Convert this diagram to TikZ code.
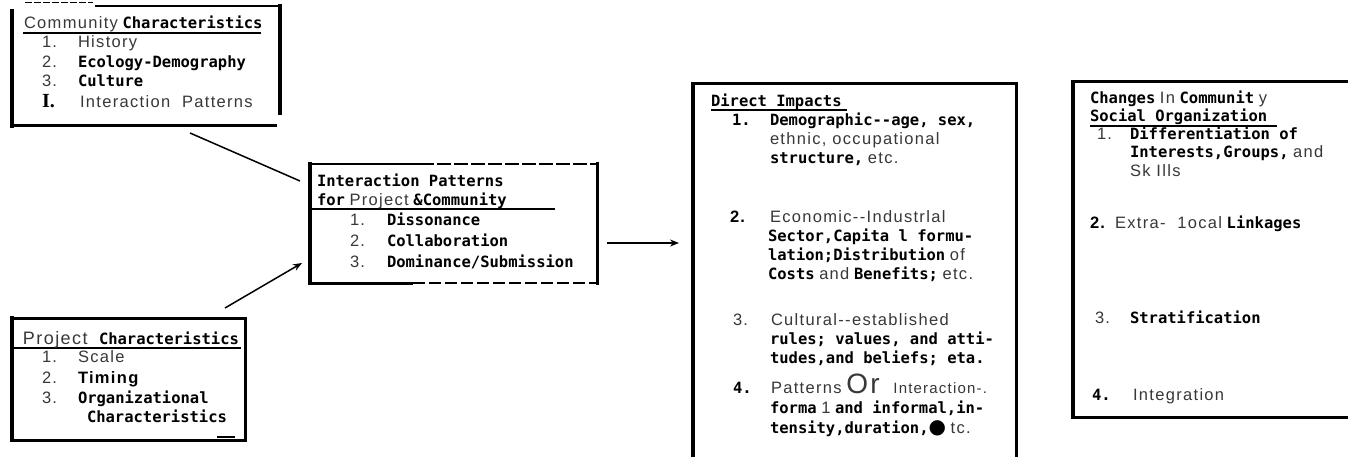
\documentclass[tikz,border=0pt]{standalone}
\usepackage{fontspec}
\usetikzlibrary{arrows.meta}
\setmainfont{Liberation Sans}
\newfontfamily\rgfont[LetterSpace=8]{Liberation Sans}
\newfontfamily\bdfont{DejaVu Sans Mono}
\newfontfamily\serifbd{Liberation Serif}
\newfontfamily\symfont{DejaVu Sans}
\definecolor{txtgray}{gray}{0.22}
% regular, bold typewriter, and bold sans text runs
\newcommand\Rg[1]{{\rgfont\color{txtgray}#1}}
\newcommand\Bd[1]{{\fontsize{15.5}{18}\bdfont\bfseries #1}}
\newcommand\HB[1]{{\rgfont\bfseries #1}}
\tikzset{
  txt/.style={anchor=base west, inner sep=0pt, outer sep=0pt, font=\fontsize{16.5}{18}\selectfont},
  rule/.style={line width=1.5pt},
  edge/.style={line width=3pt},
  thick edge/.style={line width=4pt},
  link/.style={line width=1.5pt},
  arrowlink/.style={line width=1.5pt, -{Stealth[length=9pt,width=7pt]}}
}
\begin{document}
\begin{tikzpicture}[x=1pt,y=-1pt]
\fill[white] (0,0) rectangle (1348,457);
\useasboundingbox (0,0) rectangle (1348,457);

% ---- Community characteristics ----
\draw[line width=1pt, dash pattern=on 7pt off 2pt] (25,3) -- (93,3);
\draw[line width=2.5pt] (95,6) -- (279,6);
\draw[thick edge] (12,9) -- (12,128);
\draw[edge] (12,126) -- (277,126);
\draw[line width=3.5pt] (280,4) -- (280,115);
\draw[rule] (23,33) -- (261,33);
\node[txt] (ct) at (24,29) {\Rg{Community} \Bd{Characteristics}};
\node[txt] (cn1) at (42,48) {\Rg{1.}};
\node[txt] (ci1) at (78,48) {\Rg{History}};
\node[txt] (cn2) at (42,68) {\Rg{2.}};
\node[txt] (ci2) at (78,68) {\Bd{Ecology-Demography}};
\node[txt] (cn3) at (42,87) {\Rg{3.}};
\node[txt] (ci3) at (78,87) {\Bd{Culture}};
\node[txt] (cn4) at (42,108) {\fontsize{20}{20}\serifbd\bfseries I.};
\node[txt] (ci4) at (80,108) {\Rg{Interaction\ \ Patterns}};

% ---- Interaction patterns ----
\draw[thick edge] (310,162) -- (310,285);
\draw[line width=2.5pt] (310,164) -- (420,164);
\draw[line width=2pt, dash pattern=on 14pt off 3pt] (420,164) -- (597,164);
\draw[edge] (597,162) -- (597,285);
\draw[edge] (310,283) -- (413,283);
\draw[line width=2pt, dash pattern=on 12pt off 4pt] (413,283) -- (597,283);
\draw[rule] (310,209) -- (555,209);
\node[txt] (it1) at (317,186) {\Bd{Interaction Patterns}};
\node[txt] (it2) at (317,205) {\Bd{for} \Rg{Project} \Bd{\&Community}};
\node[txt] (in1) at (350,225) {\Rg{1.}};
\node[txt] (ii1) at (387,225) {\Bd{Dissonance}};
\node[txt] (in2) at (350,246) {\Rg{2.}};
\node[txt] (ii2) at (387,246) {\Bd{Collaboration}};
\node[txt] (in3) at (350,267) {\Rg{3.}};
\node[txt] (ii3) at (387,267) {\Bd{Dominance/Submission}};

% ---- Project characteristics ----
\draw[edge] (12,318) rectangle (245,440);
\draw[thick edge] (12,316) -- (12,442);
\draw[rule] (12,348) -- (241,348);
\draw[rule] (217,437) -- (235,437);
\node[txt] (pt) at (23,344) {{\fontsize{18}{18}\Rg{Project}}};
\node[txt] (pt2) at (99,344) {\Bd{Characteristics}};
\node[txt] (pn1) at (42,362) {\Rg{1.}};
\node[txt] (pi1) at (78,362) {\Rg{Scale}};
\node[txt] (pn2) at (42,383) {\Rg{2.}};
\node[txt] (pi2) at (78,383) {\HB{Timing}};
\node[txt] (pn3) at (42,403) {\Rg{3.}};
\node[txt] (pi3) at (78,403) {\Bd{Organizational}};
\node[txt] (pi3b) at (87,422) {\Bd{Characteristics}};

% ---- connectors ----
\coordinate (cfoot) at (190,133);
\coordinate (ihead) at (300,181);
\coordinate (ptop) at (225,308);
\coordinate (ifoot) at (302,263);
\coordinate (iright) at (607,243);
\coordinate (dleft) at (679,243);
\draw[link] (cfoot) -- (ihead);
\draw[arrowlink] (ptop) -- (ifoot);
\draw[arrowlink] (iright) -- (dleft);

% ---- Direct impacts ----
\draw[thick edge] (693,82) -- (693,460);
\draw[edge] (693,84) -- (1016,84);
\draw[edge] (1016,82) -- (1016,460);
\draw[rule] (711,110) -- (847,110);
\node[txt] (dt) at (711,107) {\Bd{Direct Impacts}};
\node[txt] (dn1) at (732,126) {\Bd{1.}};
\node[txt] (d1a) at (770,126) {\Bd{Demographic--age, sex,}};
\node[txt] (d1b) at (770,145) {\Rg{ethnic,\ occupational}};
\node[txt] (d1c) at (770,164) {\Bd{structure,} \Rg{etc.}};
\node[txt] (dn2) at (730,222) {\HB{2.}};
\node[txt] (d2a) at (770,222) {\Rg{Economic--Industrlal}};
\node[txt] (d2b) at (768,241) {\Bd{Sector,Capita l formu-}};
\node[txt] (d2c) at (768,260) {\Bd{lation;Distribution} \Rg{of}};
\node[txt] (d2d) at (768,279) {\Bd{Costs} \Rg{and} \Bd{Benefits;} \Rg{etc.}};
\node[txt] (dn3) at (733,325) {\Rg{3.}};
\node[txt] (d3a) at (771,325) {\Rg{Cultural--established}};
\node[txt] (d3b) at (770,344) {\Bd{rules; values, and atti-}};
\node[txt] (d3c) at (770,363) {\Bd{tudes,and beliefs; eta.}};
\node[txt] (dn4) at (733,393) {\Bd{4.}};
\node[txt] (d4a) at (771,393) {\Rg{Patterns} {\fontsize{28}{28}\Rg{Or}}\ \ \ {\fontsize{15}{15}\Rg{Interaction-.}}};
\node[txt] (d4b) at (770,413) {\Bd{forma} \Rg{1} \Bd{and informal,in-}};
\node[txt] (d4c) at (770,433) {\Bd{tensity,duration,}{\fontsize{20}{20}\symfont ●} \Rg{tc.}};

% ---- Changes in community social organization ----
\draw[line width=3.5pt] (1073,80) -- (1073,419);
\draw[edge] (1073,82) -- (1348,82);
\draw[edge] (1073,417) -- (1348,417);
\draw[rule] (1090,126) -- (1277,126);
\node[txt] (st) at (1090,104) {\Bd{Changes} \Rg{In} \Bd{Communit} \Rg{y}};
\node[txt] (st2) at (1090,122) {\Bd{Social Organization}};
\node[txt] (sn1) at (1097,140) {\Rg{1.}};
\node[txt] (s1a) at (1130,140) {\Bd{Differentiation of}};
\node[txt] (s1b) at (1130,158) {\Bd{Interests,Groups,} \Rg{and}};
\node[txt] (s1c) at (1130,176) {\Rg{Sk Ills}};
\node[txt] (sn2) at (1090,228) {\HB{2.}};
\node[txt] (s2) at (1115,228) {\Rg{Extra-\ \ 1ocal} \Bd{Linkages}};
\node[txt] (sn3) at (1095,323) {\Rg{3.}};
\node[txt] (s3) at (1130,323) {\Bd{Stratification}};
\node[txt] (sn4) at (1092,400) {\Bd{4.}};
\node[txt] (s4) at (1133,400) {\Rg{Integration}};
\end{tikzpicture}
\end{document}
